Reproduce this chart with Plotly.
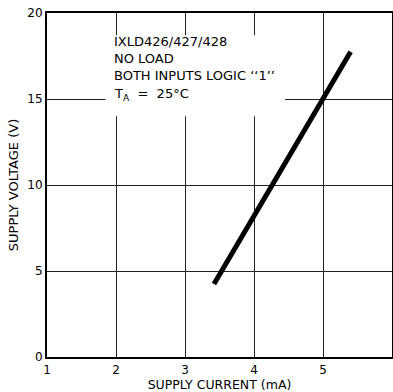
import plotly.graph_objects as go

# Data
supply_current_ma = [3.42, 4.0, 4.6, 5.0, 5.4]
supply_voltage_v = [4.25, 8.2, 12.3, 15.0, 17.75]

x_ticks = [1, 2, 3, 4, 5, 6]
y_ticks = [0, 5, 10, 15, 20]

note_lines = ["IXLD426/427/428", "NO LOAD", "BOTH INPUTS LOGIC \u2018\u20181\u2019\u2019",
              "T<sub>A</sub>  =  25°C"]

FONT = "DejaVu Sans"

fig = go.Figure()
fig.add_trace(go.Scatter(
    x=supply_current_ma, y=supply_voltage_v, mode="lines",
    line=dict(color="black", width=5), showlegend=False, hoverinfo="skip"))

fig.add_shape(type="rect", xref="paper", yref="paper",
              x0=0.17, x1=0.69, y0=0.70, y1=0.935,
              fillcolor="white", line=dict(width=0), layer="above")

ys = [0.917, 0.867, 0.817, 0.764]
for t, yy in zip(note_lines, ys):
    fig.add_annotation(text=t, xref="paper", yref="paper", x=0.188, y=yy,
                       xanchor="left", yanchor="middle", showarrow=False,
                       font=dict(family=FONT, size=13, color="black"))

axis_common = dict(showgrid=True, gridcolor="#222", gridwidth=1,
                   showline=True, linecolor="black", linewidth=2, mirror=True,
                   zeroline=False, ticks="", automargin=False,
                   tickfont=dict(family=FONT, size=12, color="black"))

fig.update_xaxes(range=[1, 6], tickvals=x_ticks, ticklabelstandoff=1,
                 title=dict(text="SUPPLY CURRENT (mA)", standoff=4,
                            font=dict(family=FONT, size=12.5, color="black")),
                 **axis_common)
fig.update_yaxes(range=[0, 20], tickvals=y_ticks,
                 title=dict(text="SUPPLY VOLTAGE (V)", standoff=6,
                            font=dict(family=FONT, size=13, color="black")),
                 **axis_common)

fig.update_layout(width=393, height=392, margin=dict(l=47, r=1, t=13, b=35),
                  paper_bgcolor="white", plot_bgcolor="white")

fig.write_html("out.html")
